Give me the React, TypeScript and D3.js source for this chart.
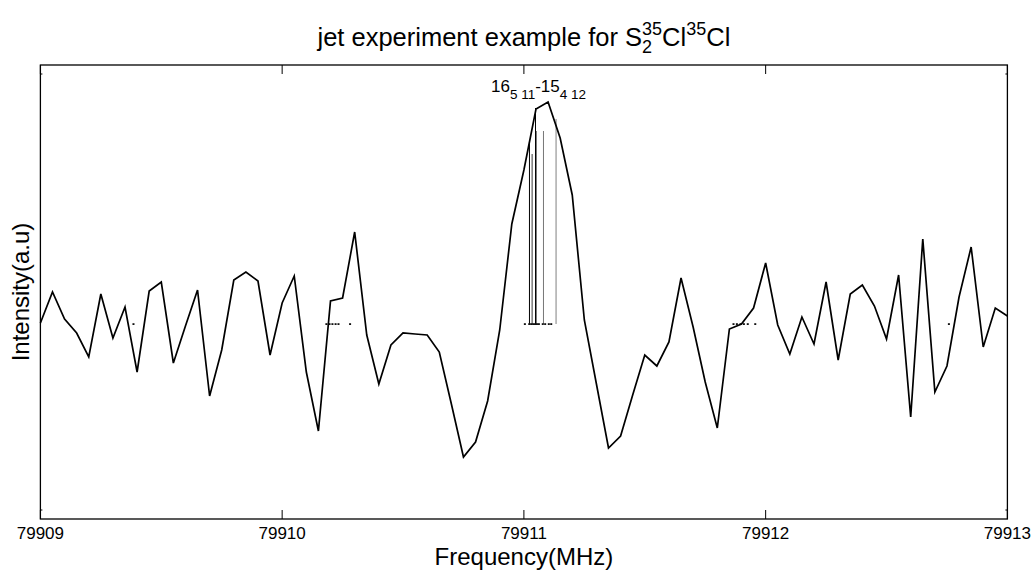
import React from "react";
import * as d3 from "d3";

// sampling grid (MHz)
const frequencies: number[] = [
  79909.0, 79909.05, 79909.1, 79909.15, 79909.2, 79909.25, 79909.3, 79909.35, 79909.4, 79909.45,
  79909.5, 79909.55, 79909.6, 79909.65, 79909.7, 79909.75, 79909.8, 79909.85, 79909.9, 79909.95,
  79910.0, 79910.05, 79910.1, 79910.15, 79910.2, 79910.25, 79910.3, 79910.35, 79910.4, 79910.45,
  79910.5, 79910.55, 79910.6, 79910.65, 79910.7, 79910.75, 79910.8, 79910.85, 79910.9, 79910.95,
  79911.0, 79911.05, 79911.1, 79911.15, 79911.2, 79911.25, 79911.3, 79911.35, 79911.4, 79911.45,
  79911.5, 79911.55, 79911.6, 79911.65, 79911.7, 79911.75, 79911.8, 79911.85, 79911.9, 79911.95,
  79912.0, 79912.05, 79912.1, 79912.15, 79912.2, 79912.25, 79912.3, 79912.35, 79912.4, 79912.45,
  79912.5, 79912.55, 79912.6, 79912.65, 79912.7, 79912.75, 79912.8, 79912.85, 79912.9, 79912.95,
  79913.0,
];

// measured intensity (a.u.)
const intensity: number[] = [
  0.01, 0.32, 0.05, -0.09, -0.33, 0.3, -0.14, 0.17, -0.48, 0.33,
  0.42, -0.39, -0.02, 0.34, -0.72, -0.26, 0.44, 0.52, 0.43, -0.31,
  0.21, 0.48, -0.48, -1.07, 0.23, 0.26, 0.92, -0.11, -0.6, -0.21,
  -0.09, -0.1, -0.11, -0.28, -0.8, -1.33, -1.18, -0.77, -0.06, 1.0,
  1.54, 2.15, 2.22, 1.86, 1.29, 0.04, -0.6, -1.24, -1.12, -0.71,
  -0.31, -0.42, -0.18, 0.46, -0.03, -0.58, -1.04, -0.05, 0.0, 0.16,
  0.61, -0.01, -0.3, 0.07, -0.2, 0.42, -0.36, 0.3, 0.39, 0.18,
  -0.15, 0.49, -0.93, 0.85, -0.68, -0.42, 0.27, 0.77, -0.23, 0.16,
  0.08,
];

// predicted transitions (stick spectrum)
const stickFreq: number[] = [79911.023, 79911.034, 79911.048, 79911.052, 79911.081, 79911.133];
const stickInt: number[] = [1.82, 1.7, 2.16, 1.93, 1.93, 2.05];
const stickShade: string[] = ["#000000", "#3a3a3a", "#000000", "#777777", "#777777", "#808080"];

// weak predicted lines shown as dots on the baseline
const weakFreq: number[] = [
  79909.385, 79910.183, 79910.196, 79910.208, 79910.221, 79910.233, 79910.281,
  79911.004, 79911.022, 79911.03, 79911.038, 79911.046, 79911.054, 79911.062, 79911.078,
  79911.088, 79911.103, 79911.113, 79911.867, 79911.881, 79911.896, 79911.91, 79911.926,
  79911.957, 79912.758,
];

const xTicks: number[] = [79909, 79910, 79911, 79912, 79913];
const yTicks: number[] = [2.5, -1.86];
const xDomain: [number, number] = [79909, 79913];
const yDomain: [number, number] = [-1.95, 2.59];

const FONT = "'Liberation Sans', Arial, Helvetica, sans-serif";

export default function App() {
  const W = 1035;
  const H = 570;
  const left = 40.4;
  const right = 1007.4;
  const top = 65;
  const bottom = 519;

  const x = d3.scaleLinear().domain(xDomain).range([left, right]);
  const y = d3.scaleLinear().domain(yDomain).range([bottom, top]);

  const line = d3
    .line<number>()
    .x((_, i) => x(frequencies[i]))
    .y((d) => y(d));

  const tickLen = 9;
  const yTickLen = 2;

  return (
    <svg
      width={W}
      height={H}
      style={{ position: "absolute", left: 0, top: 0, background: "#fff" }}
      fontFamily={FONT}
    >
      <rect x={0} y={0} width={W} height={H} fill="#fff" />

      {/* title */}
      <text x={(left + right) / 2} y={46} textAnchor="middle" fontSize={25.5} fill="#000">
        <tspan>jet experiment example for S</tspan>
        <tspan fontSize={18} dy={7}>2</tspan>
        <tspan fontSize={18} dx={-10} dy={-18}>35</tspan>
        <tspan dy={11}>Cl</tspan>
        <tspan fontSize={18} dy={-11}>35</tspan>
        <tspan dy={11}>Cl</tspan>
      </text>

      {/* sticks */}
      {stickFreq.map((f, i) => (
        <line
          key={"s" + i}
          x1={x(f)}
          x2={x(f)}
          y1={y(0)}
          y2={y(stickInt[i])}
          stroke={stickShade[i]}
          strokeWidth={1}
        />
      ))}

      {/* weak lines dots */}
      {weakFreq.map((f, i) => (
        <rect key={"w" + i} x={x(f) - 1} y={y(0) - 0.8} width={2} height={1.8} fill="#111" />
      ))}

      {/* spectrum */}
      <path d={line(intensity) || ""} fill="none" stroke="#000" strokeWidth={1.7} strokeLinejoin="miter" />

      {/* axes box */}
      <rect x={left} y={top} width={right - left} height={bottom - top} fill="none" stroke="#000" strokeWidth={1.3} />

      {/* x ticks */}
      {xTicks.map((t) => (
        <g key={"xt" + t}>
          <line x1={x(t)} x2={x(t)} y1={bottom} y2={bottom - tickLen} stroke="#000" strokeWidth={1} />
          <line x1={x(t)} x2={x(t)} y1={top} y2={top + tickLen} stroke="#000" strokeWidth={1} />
          <text x={x(t)} y={539} textAnchor="middle" fontSize={17} fill="#000">
            {t}
          </text>
        </g>
      ))}

      {/* y ticks (unlabelled) */}
      {yTicks.map((t) => (
        <g key={"yt" + t}>
          <line x1={left} x2={left + yTickLen} y1={y(t)} y2={y(t)} stroke="#000" strokeWidth={1} />
          <line x1={right} x2={right - yTickLen} y1={y(t)} y2={y(t)} stroke="#000" strokeWidth={1} />
        </g>
      ))}

      {/* annotation */}
      <text x={491} y={92} fontSize={17} fill="#000">
        <tspan>16</tspan>
        <tspan fontSize={13.5} dy={7}>5 11</tspan>
        <tspan dy={-7}>-15</tspan>
        <tspan fontSize={13.5} dy={7}>4 12</tspan>
      </text>

      {/* axis labels */}
      <text x={(left + right) / 2} y={565} textAnchor="middle" fontSize={24} fill="#000">
        Frequency(MHz)
      </text>
      <text
        transform={`translate(29, ${(top + bottom) / 2}) rotate(-90)`}
        textAnchor="middle"
        fontSize={24}
        fill="#000"
      >
        Intensity(a.u)
      </text>
    </svg>
  );
}
